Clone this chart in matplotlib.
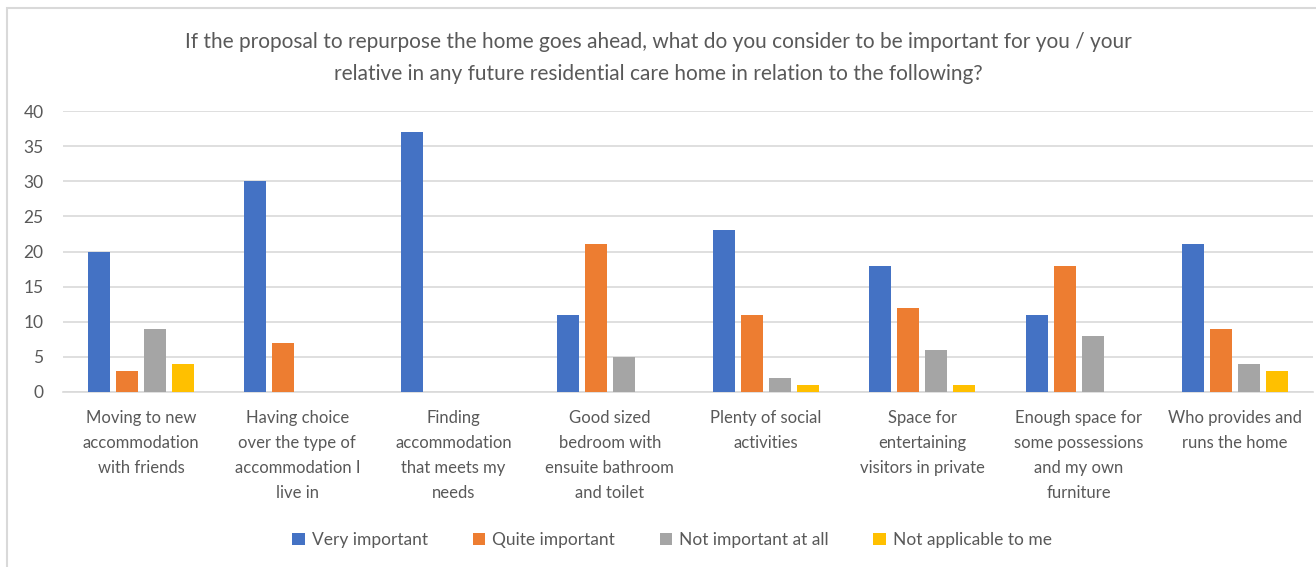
import numpy as np
import matplotlib
matplotlib.use("Agg")
import matplotlib.pyplot as plt
from matplotlib.patches import Rectangle

categories = [
    "Moving to new\naccommodation\nwith friends",
    "Having choice\nover the type of\naccommodation I\nlive in",
    "Finding\naccommodation\nthat meets my\nneeds",
    "Good sized\nbedroom with\nensuite bathroom\nand toilet",
    "Plenty of social\nactivities",
    "Space for\nentertaining\nvisitors in private",
    "Enough space for\nsome possessions\nand my own\nfurniture",
    "Who provides and\nruns the home",
]
series_names = ["Very important", "Quite important", "Not important at all", "Not applicable to me"]
very = [20, 30, 37, 11, 23, 18, 11, 21]
quite = [3, 7, 0, 21, 11, 12, 18, 9]
not_imp = [9, 0, 0, 5, 2, 6, 8, 4]
not_app = [4, 0, 0, 0, 1, 1, 0, 3]
colors = ["#4472c4", "#ed7d31", "#a5a5a5", "#ffc000"]
title = ("If the proposal to repurpose the home goes ahead, what do you consider to be important for you / your\n"
         "relative in any future residential care home in relation to the following?")

plt.rcParams["font.family"] = ["Lato", "DejaVu Sans"]
txt = "#595959"

fig = plt.figure(figsize=(13.16, 5.67), dpi=100)
ax = fig.add_axes([63 / 1316, 1 - 392 / 567, 1250 / 1316, 281 / 567])

x = np.arange(len(categories))
slot = 28 / 156
bw = 22 / 156
for i, (name, vals) in enumerate(zip(series_names, [very, quite, not_imp, not_app])):
    ax.bar(x + (i - 1.5) * slot, vals, width=bw, color=colors[i], label=name, zorder=3)

ax.set_xlim(-0.5, len(categories) - 0.5)
ax.set_ylim(0, 40)
ax.set_yticks(range(0, 41, 5))
ax.set_xticks(x)
ax.set_xticklabels(categories, fontsize=12, color=txt, linespacing=1.7)
ax.tick_params(axis="both", length=0, colors=txt)
ax.tick_params(axis="y", labelsize=12.5, pad=14)
ax.tick_params(axis="x", pad=13)
ax.grid(axis="y", color="#d9d9d9", lw=1.2, zorder=0)
for s in ["top", "right", "left"]:
    ax.spines[s].set_visible(False)
ax.spines["bottom"].set_color("#d9d9d9")
ax.spines["bottom"].set_linewidth(1.2)

fig.text(0.5, 1 - 57.5 / 567, title, ha="center", va="center", fontsize=15,
         color=txt, linespacing=1.75)

fig.legend(loc="center", bbox_to_anchor=(672 / 1316, 1 - 540 / 567), ncol=4,
           frameon=False, fontsize=12.5, labelcolor=txt, handlelength=0.7,
           handleheight=0.7, handletextpad=0.4, columnspacing=2.6)

fig.patches.append(Rectangle((7 / 1316, -0.1), 1.2, 1.1 - 8 / 567, transform=fig.transFigure,
                             fill=False, edgecolor="#d9d9d9", lw=1.5))

fig.savefig("out.png", dpi=100)
